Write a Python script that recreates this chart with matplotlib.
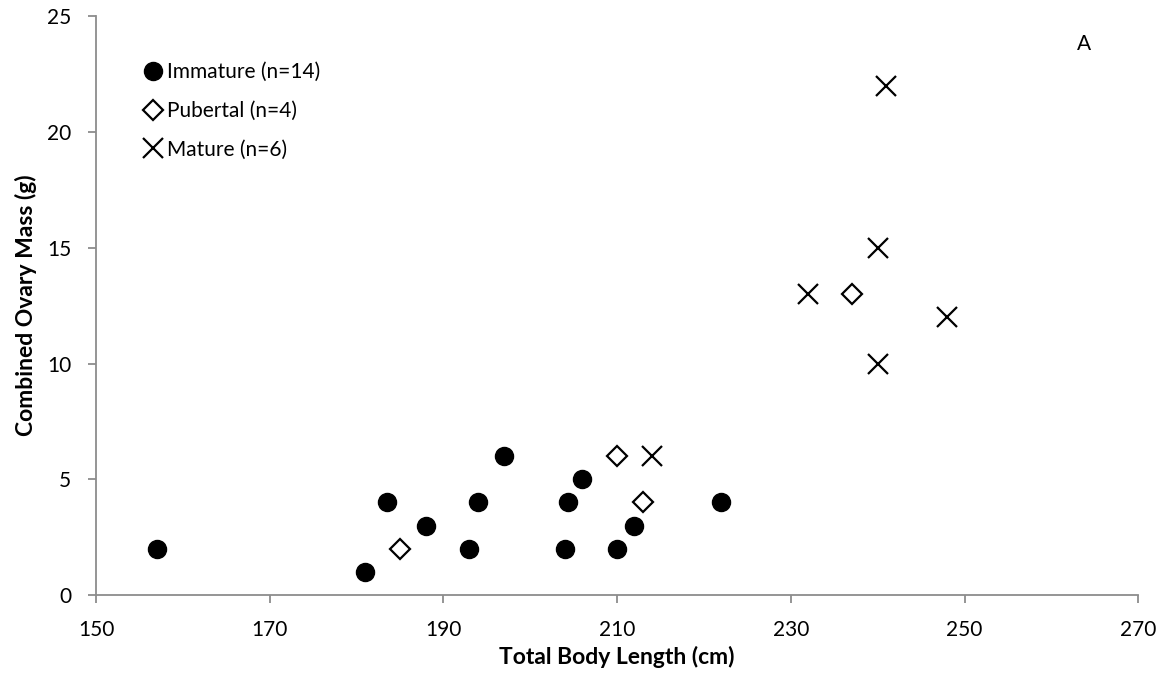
import matplotlib.pyplot as plt

plt.rcParams['font.family'] = ['Lato', 'DejaVu Sans']

# Immature (filled circles)
imm_len = [157, 181, 183.5, 188, 193, 194, 197, 204, 204.3, 206, 210, 212, 222]
imm_mass = [2, 1, 4, 3, 2, 4, 6, 2, 4, 5, 2, 3, 4]

# Pubertal (open diamonds)
pub_len = [185, 210, 213, 237]
pub_mass = [2, 6, 4, 13]

# Mature (crosses)
mat_len = [214, 232, 240, 240, 241, 248]
mat_mass = [6, 13, 10, 15, 22, 12]

x_ticks = [150, 170, 190, 210, 230, 250, 270]
y_ticks = [0, 5, 10, 15, 20, 25]

fig = plt.figure(figsize=(11.71, 6.77), dpi=100)
ax = fig.add_axes([0.082, 0.121, 0.89, 0.855])

ax.plot(imm_len, imm_mass, 'o', color='black', markersize=13, linestyle='none',
        label='Immature (n=14)')
ax.plot(pub_len, pub_mass, 'D', markerfacecolor='white', markeredgecolor='black',
        markeredgewidth=1.6, markersize=10, linestyle='none', label='Pubertal (n=4)')
ax.plot(mat_len, mat_mass, 'x', color='black', markersize=14, markeredgewidth=1.6,
        linestyle='none', label='Mature (n=6)')

ax.set_xlim(150, 270)
ax.set_ylim(0, 25)
ax.set_xticks(x_ticks)
ax.set_yticks(y_ticks)

for s in ['top', 'right']:
    ax.spines[s].set_visible(False)
for s in ['left', 'bottom']:
    ax.spines[s].set_color('#8c8c8c')
    ax.spines[s].set_linewidth(1.3)
ax.tick_params(direction='out', length=6, width=1.3, color='#8c8c8c',
               labelsize=15, labelcolor='black', pad=12)

ax.set_xlabel('Total Body Length (cm)', fontsize=16.5, fontweight='bold', labelpad=4)
ax.set_ylabel('Combined Ovary Mass (g)', fontsize=16.5, fontweight='bold', labelpad=7)

ax.text(263.8, 23.8, 'A', fontsize=15, ha='center', va='center')

ax.legend(loc='upper left', bbox_to_anchor=(0.035, 0.935), frameon=False,
          fontsize=15, handletextpad=0.05, labelspacing=0.9, handlelength=1.2,
          borderaxespad=0)

fig.savefig('out.png', dpi=100)
